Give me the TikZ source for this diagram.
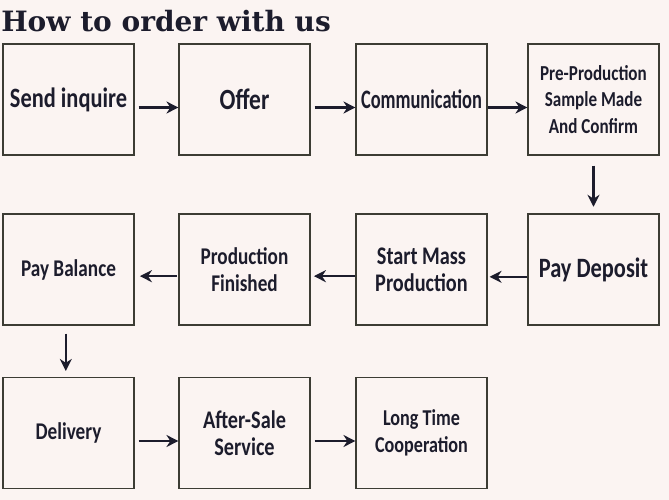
\documentclass[tikz,border=0pt]{standalone}
\usepackage{fontspec}
\newfontfamily\boxfont{Carlito}[FakeStretch=0.8]
\newfontfamily\narrowfont{Carlito}[FakeStretch=0.69]
\newfontfamily\headfont{DejaVu Serif}
\usetikzlibrary{arrows.meta}
\definecolor{paper}{HTML}{FBF4F2}
\definecolor{ink}{HTML}{1C1C2C}
\definecolor{frame}{HTML}{3C3C34}
\newcommand\boxsize[1]{\boxfont\bfseries\fontsize{#1}{20}\selectfont}
\tikzset{
stepbox/.style={draw=frame,line width=1.1pt,minimum width=98pt,minimum height=83pt,inner sep=0pt,align=center,text=ink,font=\boxsize{18}},
flow/.style={draw=ink,line width=1.9pt,-{Stealth[length=9pt,width=9pt]}}
}
\begin{document}
\begin{tikzpicture}[x=0.75pt,y=-0.75pt]
\fill[paper] (0,0) rectangle (669,500);
\useasboundingbox (0,0) rectangle (669,500);
\node[anchor=base west,inner sep=0pt,text=ink,font=\headfont\bfseries\fontsize{21}{24}\selectfont] (title) at (1,31) {How to order with us};
\node[stepbox,font=\boxsize{21}] (send) at (68.5,99.5) {Send inquire};
\node[stepbox,font=\boxsize{22}] (offer) at (244.5,99.5) {Offer};
\node[stepbox,font=\narrowfont\bfseries\fontsize{20}{24}\selectfont] (comm) at (421.5,99.5) {Communication};
\node[stepbox,font=\boxsize{16}] (sample) at (593.5,99.5) {Pre-Production\\Sample Made\\And Confirm};
\node[stepbox] (balance) at (68.5,269.5) {Pay Balance};
\node[stepbox] (finished) at (244.5,269.5) {Production\\Finished};
\node[stepbox,font=\boxsize{19}] (mass) at (421.5,269.5) {Start Mass\\Production};
\node[stepbox,font=\boxsize{21}] (deposit) at (593.5,269.5) {Pay Deposit};
\node[stepbox] (delivery) at (68.5,433) {Delivery};
\node[stepbox,font=\boxsize{19}] (aftersale) at (244.5,433) {After-Sale\\Service};
\node[stepbox,font=\boxsize{17}] (longtime) at (421.5,433) {Long Time\\Cooperation};
\draw[flow] ([xshift=3pt,yshift=-6pt]send.east) -- ([yshift=-6pt]offer.west);
\draw[flow] ([xshift=3pt,yshift=-6pt]offer.east) -- ([yshift=-6pt]comm.west);
\draw[flow] ([yshift=-6pt]comm.east) -- ([yshift=-6pt]sample.west);
\draw[flow] ([yshift=-7.5pt]sample.south) -- ([yshift=5pt]deposit.north);
\draw[flow] ([yshift=-5.5pt]deposit.west) -- ([xshift=1.5pt,yshift=-5.5pt]mass.east);
\draw[flow] ([yshift=-5pt]mass.west) -- ([xshift=2.5pt,yshift=-5pt]finished.east);
\draw[flow] ([xshift=-1pt,yshift=-5pt]finished.west) -- ([xshift=4pt,yshift=-5pt]balance.east);
\draw[flow] ([xshift=-2pt,yshift=-6pt]balance.south) -- ([xshift=-2pt,yshift=4.5pt]delivery.north);
\draw[flow] ([xshift=3pt,yshift=-6pt]delivery.east) -- ([yshift=-6pt]aftersale.west);
\draw[flow] ([xshift=3pt,yshift=-6pt]aftersale.east) -- ([yshift=-6pt]longtime.west);
\end{tikzpicture}
\end{document}
